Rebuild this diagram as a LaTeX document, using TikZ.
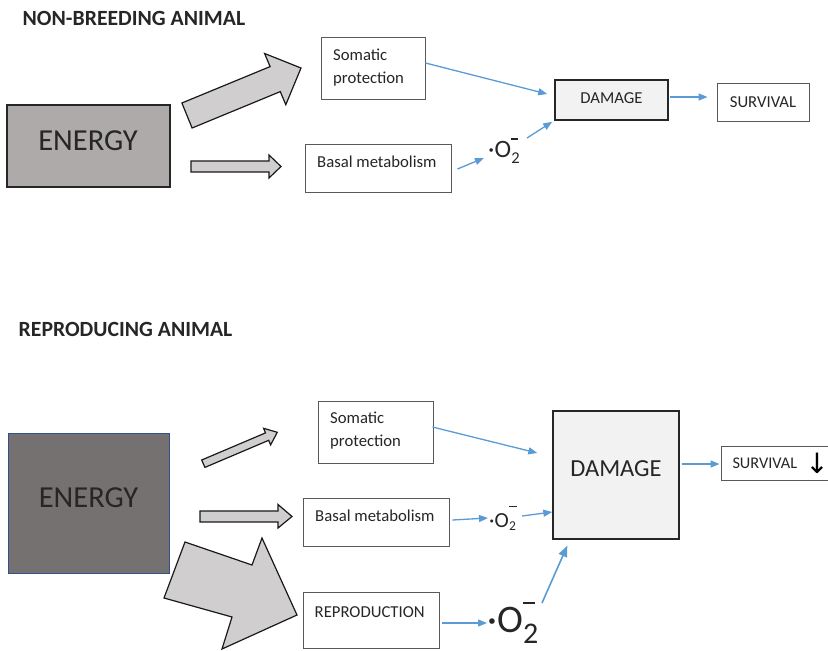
\documentclass[tikz,border=0pt]{standalone}
\usepackage{fontspec}
\setmainfont{Carlito}
\newfontfamily\symfont{DejaVu Sans}
\usetikzlibrary{arrows.meta,calc}
\definecolor{txtc}{HTML}{262626}
\definecolor{boxline}{HTML}{595959}
\definecolor{blueline}{HTML}{5B9BD5}
\definecolor{arrowfill}{HTML}{D0CECE}
\definecolor{enlight}{HTML}{AEAAAA}
\definecolor{endark}{HTML}{767171}
\definecolor{enborder}{HTML}{2F528F}
\definecolor{dmgfill}{HTML}{F2F2F2}
\newcommand{\supox}[6]{{\fontsize{#1}{#1}\selectfont ·O}\kern0.3pt\rlap{\rule[#3]{#4}{#5}}{\fontsize{#2}{#2}\selectfont\raisebox{-#6}{2}}}
\tikzset{
  box/.style={draw=boxline, line width=0.9pt, fill=white, inner sep=0pt},
  dmgbox/.style={draw=black!85, line width=1.6pt, fill=dmgfill, inner sep=0pt},
  lbl/.style={font=\fontsize{16.7}{20}\selectfont, text=txtc, inner sep=0pt, anchor=base west},
  ttl/.style={font=\bfseries\fontsize{21.7}{24}\selectfont, text=txtc, inner sep=0pt, anchor=base west},
  conn/.style={draw=blueline, line width=1.3pt, -{Triangle[length=9pt,width=7pt]}},
  block/.style={draw=black!90, line width=1.2pt, fill=arrowfill, line join=miter},
  oxy/.style={text=txtc, inner sep=0pt, anchor=base west}
}
\begin{document}
\begin{tikzpicture}[x=1pt,y=-1pt]
\useasboundingbox (0,0) rectangle (828,651);

% ---------------- NON-BREEDING ----------------
\node[ttl] (t1) at (22.5,25) {NON-BREEDING ANIMAL};

\node[draw=black!85, line width=1.2pt, fill=enlight, minimum width=163pt, minimum height=82pt, inner sep=0pt] (enA) at (88.5,146) {};
\node[font=\fontsize{30.5}{32}\selectfont, text=txtc, inner sep=0pt, anchor=base] (enAt) at (88,150) {ENERGY};

\node[box, minimum width=104pt, minimum height=62pt] (somA) at (373,68) {};
\node[lbl] (somAt1) at (333,60) {Somatic};
\node[lbl] (somAt2) at (333,83) {protection};

\node[box, minimum width=146pt, minimum height=48pt] (basA) at (378,168) {};
\node[lbl] (basAt) at (317,167) {Basal metabolism};

\node[dmgbox, minimum width=113pt, minimum height=40pt] (dmgA) at (611.5,100) {};
\node[lbl, anchor=base] (dmgAt) at (611.5,103.5) {DAMAGE};

\node[box, minimum width=92pt, minimum height=38pt] (surA) at (763,102) {};
\node[lbl, anchor=base] (surAt) at (763,107) {SURVIVAL};

\node[oxy] (o2a) at (488,157) {\supox{25}{16.5}{17.5pt}{7pt}{1.2pt}{6pt}};

% block arrows
\draw[block] (181.9,103) -- (270.1,66.6) -- (264.6,53.5) -- (301,68) -- (285.8,104.7) -- (280.3,91.6) -- (192.1,128) -- cycle;
\draw[block] (191,161) -- (269,161) -- (269,155) -- (281,166.5) -- (269,178) -- (269,172) -- (191,172) -- cycle;

% connectors
\draw[conn] ($(somA.east)+(0,-5)$) -- ($(dmgA.west)+(-7,-6)$);
\draw[conn] ($(basA.east)+(6,1)$) -- ($(o2a.base west)+(-4,1)$);
\draw[conn] ($(o2a.base west)+(39,-19)$) -- ($(dmgA.south west)+(-2,1)$);
\draw[conn] ($(dmgA.east)+(1.5,-3)$) -- ($(surA.west)+(-9,-5)$);

% ---------------- REPRODUCING ----------------
\node[ttl] (t2) at (18.5,336) {REPRODUCING ANIMAL};

\node[draw=enborder, line width=1pt, fill=endark, minimum width=161pt, minimum height=140pt, inner sep=0pt] (enB) at (88.5,503) {};
\node[font=\fontsize{30.5}{32}\selectfont, text=txtc, inner sep=0pt, anchor=base] (enBt) at (88.5,507) {ENERGY};

\node[box, minimum width=115pt, minimum height=62pt] (somB) at (375.5,432) {};
\node[lbl] (somBt1) at (330,423) {Somatic};
\node[lbl] (somBt2) at (330,446.5) {protection};

\node[box, minimum width=146pt, minimum height=48pt] (basB) at (376,522) {};
\node[lbl] (basBt) at (315,521) {Basal metabolism};

\node[box, minimum width=136pt, minimum height=56pt] (repB) at (371,620) {};
\node[lbl] (repBt) at (314.5,617) {REPRODUCTION};

\node[dmgbox, line width=1.4pt, minimum width=126pt, minimum height=128pt] (dmgB) at (616,475) {};
\node[font=\fontsize{24.5}{28}\selectfont, text=txtc, inner sep=0pt, anchor=base] (dmgBt) at (616,476.5) {DAMAGE};

\node[box, minimum width=108pt, minimum height=34pt] (surB) at (775,463) {};
\node[lbl, font=\fontsize{16.3}{20}\selectfont] (surBt) at (732.3,468.3) {SURVIVAL};
\node[font=\symfont\fontsize{28}{30}\selectfont, text=black, inner sep=0pt, anchor=base] (surBa) at (817,473) {↓};

\node[oxy] (o2b) at (489,527.3) {\supox{21.5}{13.5}{20pt}{7.5pt}{1.2pt}{3.4pt}};
\node[oxy] (o2c) at (487,632) {\supox{39}{30}{28.5pt}{11.5pt}{1.8pt}{11pt}};

% block arrows
\draw[block] (201.7,460.0) -- (265.5,432.9) -- (263.6,428.3) -- (277.3,432.3) -- (270.6,444.9) -- (268.7,440.3) -- (204.9,467.4) -- cycle;
\draw[block] (200,511) -- (278,511) -- (278,504.5) -- (292,516.5) -- (278,528) -- (278,522) -- (200,522) -- cycle;
\draw[block] (185,542) -- (252,565) -- (262,538) -- (297,615) -- (222,649) -- (232,617) -- (164,598) -- cycle;

% connectors
\draw[conn] ($(somB.east)+(-1,-5)$) -- ($(dmgB.west)+(-15,-22)$);
\draw[conn] ($(basB.east)+(3,-2)$) -- ($(o2b.base west)+(-1,-9.3)$);
\draw[conn] ($(o2b.base west)+(33,-11.3)$) -- ($(dmgB.west)+(0,37)$);
\draw[conn] ($(repB.east)+(3,3)$) -- ($(o2c.base west)+(0,-9)$);
\draw[conn, line width=1.6pt, -{Triangle[length=11pt,width=9pt]}] ($(o2c.base west)+(55,-29)$) -- ($(dmgB.south west)+(15,6)$);
\draw[conn] ($(dmgB.east)+(2,-11)$) -- ($(surB.west)+(-1,1)$);
\end{tikzpicture}
\end{document}
